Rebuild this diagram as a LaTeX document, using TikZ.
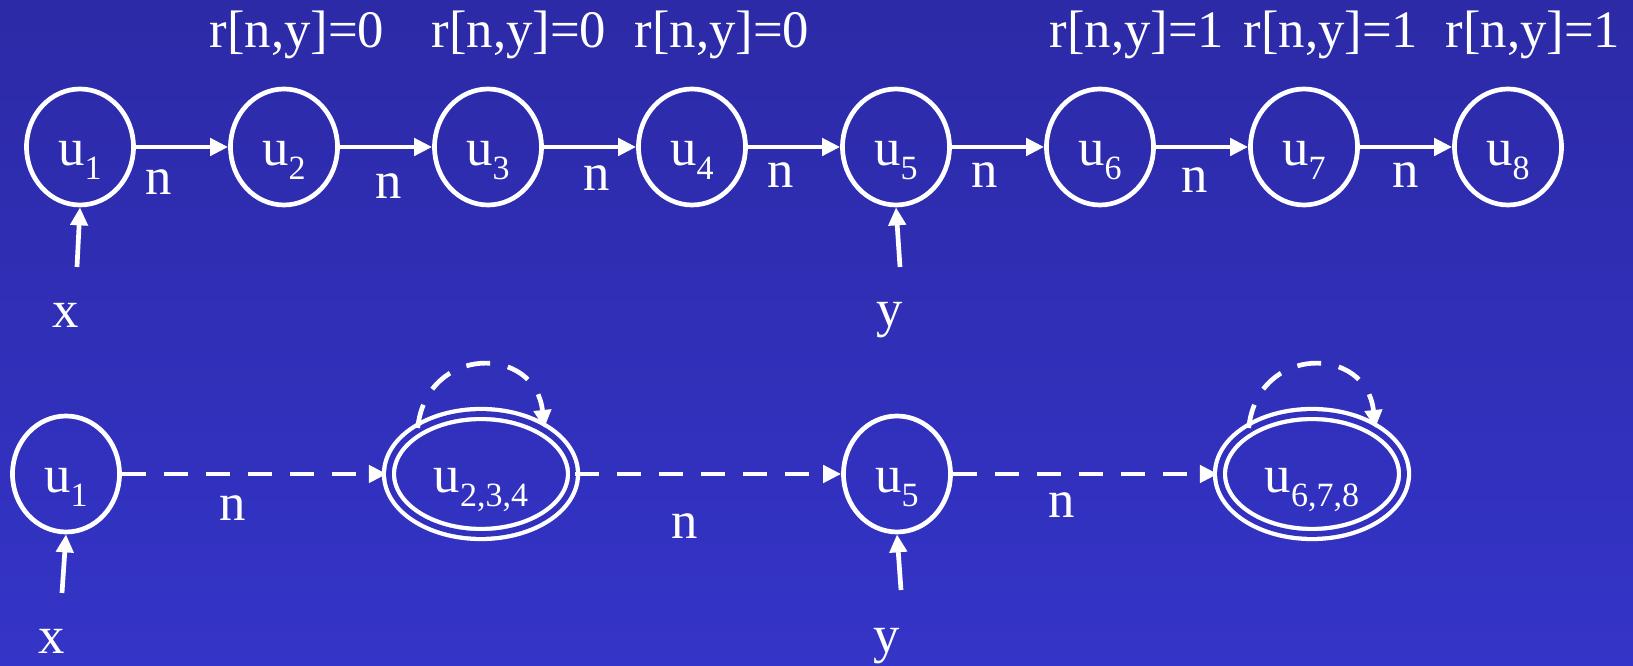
\documentclass[tikz,border=0pt]{standalone}
\usepackage{fontspec}
\setmainfont{Liberation Serif}
\usepackage{tikz}
\usetikzlibrary{arrows.meta, positioning, shapes.geometric}
\definecolor{bgtop}{RGB}{44,42,166}
\definecolor{bgbot}{RGB}{52,52,200}
\definecolor{bgmid}{RGB}{49,49,190}
\newcommand{\usub}[1]{\raisebox{-13.5pt}{\fontsize{34}{34}\selectfont #1}}

\begin{document}
\begin{tikzpicture}[
    x=1pt, y=1pt,
    font=\fontsize{52.7}{60}\selectfont, text=white,
    cell/.style={ellipse, draw=white, line width=4.7pt, minimum width=107pt, minimum height=116pt,
        inner sep=0pt, outer sep=auto, text height=38pt, text depth=0pt},
    sumcell/.style={ellipse, draw=white, line width=4.3pt, double=bgmid, double distance=5.7pt,
        minimum width=184pt, minimum height=120pt, inner sep=0pt, outer sep=auto, text height=38pt, text depth=0pt},
    lbl/.style={anchor=base, inner sep=0pt},
    nedge/.style={-{Triangle[length=18pt, width=17pt]}, white, line width=4.7pt},
    dedge/.style={nedge, dash pattern=on 24pt off 18pt}
]

\useasboundingbox (0,0) rectangle (1633,666);
\shade[top color=bgtop, bottom color=bgbot] (0,0) rectangle (1633,666);

% Concrete list
\node[cell] (a1) at (80,519) {u\usub{1}};
\node[cell] (a2) at (284,519) {u\usub{2}};
\node[cell] (a3) at (488,519) {u\usub{3}};
\node[cell] (a4) at (692,519) {u\usub{4}};
\node[cell] (a5) at (896,519) {u\usub{5}};
\node[cell] (a6) at (1100,519) {u\usub{6}};
\node[cell] (a7) at (1304,519) {u\usub{7}};
\node[cell] (a8) at (1508,519) {u\usub{8}};

% Reachability values
\node[lbl] (r2) at (297,618) {r[n,y]=0};
\node[lbl] (r3) at (519,618) {r[n,y]=0};
\node[lbl] (r4) at (722,618) {r[n,y]=0};
\node[lbl] (r6) at (1137,618) {r[n,y]=1};
\node[lbl] (r7) at (1331,618) {r[n,y]=1};
\node[lbl] (r8) at (1533,618) {r[n,y]=1};

\draw[nedge] (a1) -- node[lbl, pos=0.25, yshift=-48pt] {n} (a2);
\draw[nedge] (a2) -- node[lbl, pos=0.53, yshift=-52pt] {n} (a3);
\draw[nedge] (a3) -- node[lbl, pos=0.57, yshift=-44pt] {n} (a4);
\draw[nedge] (a4) -- node[lbl, pos=0.36, yshift=-41pt] {n} (a5);
\draw[nedge] (a5) -- node[lbl, pos=0.36, yshift=-41pt] {n} (a6);
\draw[nedge] (a6) -- node[lbl, pos=0.42, yshift=-46pt] {n} (a7);
\draw[nedge] (a7) -- node[lbl, pos=0.50, yshift=-41pt] {n} (a8);

% Variables
\coordinate (xa) at (77,399);
\coordinate (ya) at (900,399);
\draw[nedge] (xa) -- (a1.south);
\draw[nedge] (ya) -- (a5.south);
\node[lbl] (xa lbl) at (66,338) {x};
\node[lbl] (ya lbl) at (890,339) {y};

% Abstract list
\node[cell] (b1) at (66,192) {u\usub{1}};
\node[sumcell] (b2) at (481,192) {u\usub{2,3,4}};
\node[cell] (b5) at (897,192) {u\usub{5}};
\node[sumcell] (b6) at (1312,192) {u\usub{6,7,8}};

\draw[dedge] (b1) -- node[lbl, pos=0.42, yshift=-47pt] {n} (b2);
\draw[dedge] (b2) -- node[lbl, pos=0.41, yshift=-65pt] {n} (b5);
\draw[dedge] (b5) -- node[lbl, pos=0.41, yshift=-44pt] {n} (b6);

\draw[dedge] (b2.144) to[out=84, in=96, looseness=1.7] (b2.36);
\draw[dedge] (b6.144) to[out=84, in=96, looseness=1.7] (b6.36);

\coordinate (xb) at (62,73);
\coordinate (yb) at (901,76);
\draw[nedge] (xb) -- (b1.south);
\draw[nedge] (yb) -- (b5.south);
\node[lbl] (xb lbl) at (52,12) {x};
\node[lbl] (yb lbl) at (887,13) {y};

\end{tikzpicture}
\end{document}
